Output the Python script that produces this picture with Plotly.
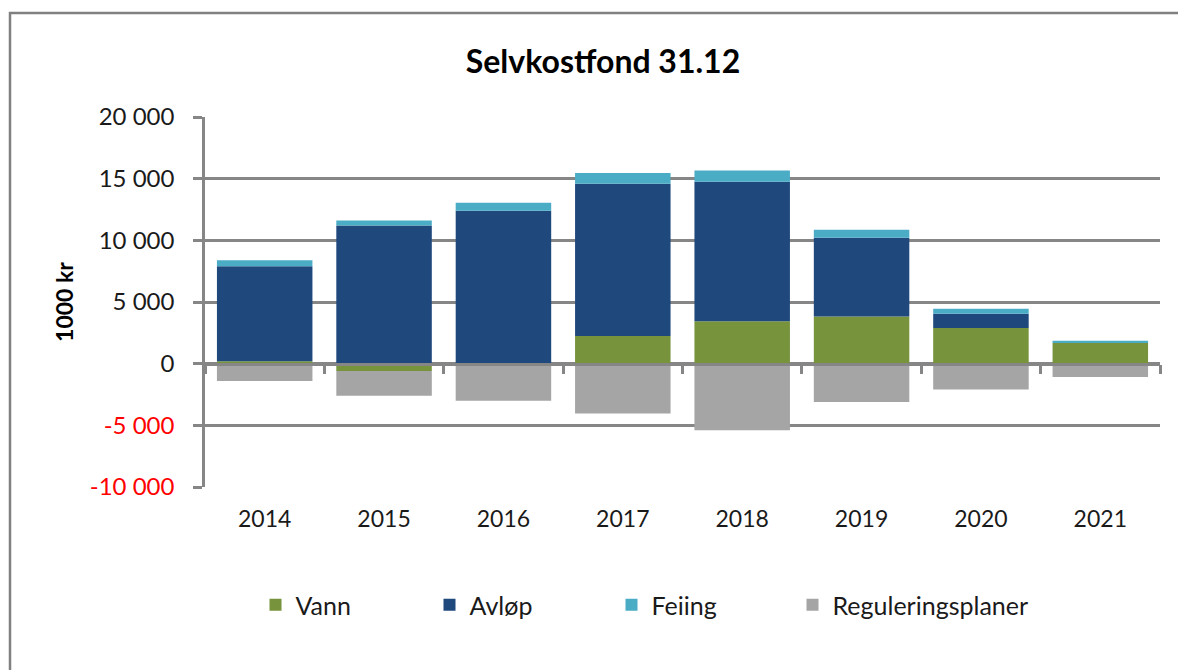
import plotly.graph_objects as go

years = ["2014", "2015", "2016", "2017", "2018", "2019", "2020", "2021"]
vann = [200, -600, 0, 2240, 3430, 3830, 2890, 1670]
avlop = [7700, 11200, 12400, 12350, 11320, 6380, 1160, 0]
feiing = [490, 400, 650, 860, 910, 650, 410, 190]
regulering = [-1400, -2000, -3000, -4050, -5400, -3110, -2100, -1090]

series_names = ["Vann", "Avløp", "Feiing", "Reguleringsplaner"]
series_values = [vann, avlop, feiing, regulering]
series_colors = ["#77933C", "#1F497D", "#4BACC6", "#A5A5A5"]

y_tickvals = [-10000, -5000, 0, 5000, 10000, 15000, 20000]
y_ticktext = ['<span style="color:#FF0000">-10 000</span>',
              '<span style="color:#FF0000">-5 000</span>',
              '0', '5 000', '10 000', '15 000', '20 000']

FONT = "Lato"
GRID = "#868686"
W, H = 1186, 670
L, R, T, B = 197, 34, 109, 191
legend_ids = ["legend", "legend2", "legend3", "legend4"]
legend_text_x = [296, 470, 652, 833]  # page px where legend text starts

fig = go.Figure()
for name, vals, col, lid in zip(series_names, series_values, series_colors, legend_ids):
    fig.add_trace(go.Bar(x=years, y=vals, name=name, legend=lid,
                         marker=dict(color=col, line=dict(width=0))))

# invisible trace to carry the zero-line axis with category boundary ticks
fig.add_trace(go.Scatter(x=years, y=[0] * len(years), xaxis="x2", mode="markers",
                         marker=dict(opacity=0), showlegend=False, hoverinfo="skip"))

ph = H - T - B
pw = W - L - R
legend_layouts = {}
for lid, tx in zip(legend_ids, legend_text_x):
    legend_layouts[lid] = dict(orientation="h", x=(tx - 48.5 - L) / pw, xanchor="left",
                               y=(T + ph - 597) / ph, yanchor="middle",
                               font=dict(size=25), bgcolor="rgba(0,0,0,0)")

fig.update_layout(
    width=W, height=H,
    barmode="relative", bargap=0.2,
    paper_bgcolor="white", plot_bgcolor="white",
    margin=dict(l=L, r=R, t=T, b=B),
    font=dict(family=FONT, size=23, color="#1a1a1a"),
    title=dict(text="<b>Selvkostfond 31.12</b>", x=595 / W, xref="container", xanchor="center",
               y=1 - 54 / H, yref="container", yanchor="middle",
               font=dict(family=FONT, size=32, color="#000000")),
    xaxis=dict(type="category", range=[-0.5, 7.5], showgrid=False, showline=False,
               ticks="", ticklabelstandoff=16, tickfont=dict(size=23)),
    xaxis2=dict(type="category", overlaying="x", anchor="free", position=1 / 3, side="bottom",
                matches="x", showline=True, linecolor=GRID, linewidth=2.5,
                ticks="outside", tickson="boundaries", ticklen=9, tickwidth=2.5, tickcolor=GRID,
                showticklabels=False, showgrid=False),
    yaxis=dict(range=[-10000, 20000], tickvals=y_tickvals, ticktext=y_ticktext,
               showgrid=True, gridcolor=GRID, gridwidth=2.5, zeroline=False,
               showline=True, linecolor=GRID, linewidth=2.5,
               ticks="outside", ticklen=9, tickwidth=2.5, tickcolor=GRID,
               ticklabelstandoff=14, tickfont=dict(size=24),
               title=dict(text="<b>1000 kr</b>", font=dict(size=23, color="#000000"), standoff=10)),
    shapes=[dict(type="rect", xref="paper", yref="paper", x0=(2 - L) / pw, x1=1.2,
                 y0=-0.8, y1=(T + ph - 5) / ph, line=dict(color="#808080", width=2.5),
                 fillcolor="rgba(0,0,0,0)", layer="below")],
    **legend_layouts,
)

fig.write_html("out.html")
